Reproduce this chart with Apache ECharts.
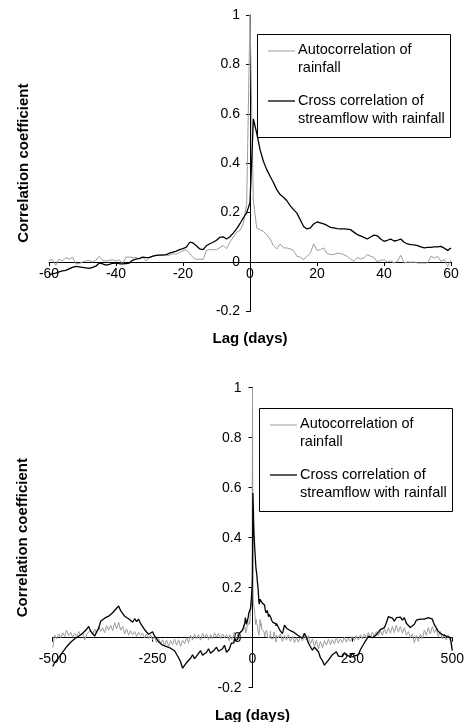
<!DOCTYPE html>
<html>
<head>
<meta charset="utf-8">
<script src="https://cdn.jsdelivr.net/npm/echarts/dist/echarts.min.js"></script>
<style>
html,body{margin:0;padding:0;background:#fff;}
#chart{width:465px;height:722px;}
</style>
</head>
<body>
<div id="chart"></div>
<script>
// ---------- DATA ----------
const seriesNames = ['Autocorrelation of rainfall', 'Cross correlation of streamflow with rainfall'];
const legendLines = [['Autocorrelation of', 'rainfall'], ['Cross correlation of', 'streamflow with rainfall']];
const axisNames = { x: 'Lag (days)', y: 'Correlation coefficient' };

// Top chart: daily lags -60 .. 60
const topLagStart = -60;
const topAuto = [
  0.007, 0.009, -0.013, 0.012, 0.004, 0.018, 0.011, 0.020, -0.007, -0.007,
  0.000, 0.004, 0.007, 0.000, 0.007, 0.023, 0.007, 0.004, 0.007, 0.009,
  0.004, 0.009, -0.007, 0.020, 0.020, 0.018, 0.018, 0.012, 0.020, 0.004,
  0.018, 0.023, 0.027, 0.028, 0.030, 0.028, 0.027, 0.034, 0.031, 0.039,
  0.045, 0.050, 0.034, 0.018, 0.010, 0.012, 0.010, 0.047, 0.050, 0.050,
  0.050, 0.058, 0.067, 0.054, 0.081, 0.100, 0.120, 0.128, 0.155, 0.236,
  1.000,
  0.250, 0.138, 0.130, 0.124, 0.110, 0.093, 0.066, 0.053, 0.073, 0.057,
  0.057, 0.053, 0.047, 0.023, 0.020, 0.010, 0.023, 0.036, 0.073, 0.047,
  0.050, 0.057, 0.034, 0.030, 0.030, 0.036, 0.034, 0.030, 0.023, 0.012,
  0.003, 0.019, 0.012, 0.016, 0.030, 0.023, 0.019, 0.000, 0.007, 0.009,
  0.000, 0.005, -0.004, 0.003, 0.027, -0.004, 0.000, -0.001, 0.000, -0.004,
  -0.004, -0.004, -0.004, 0.023, 0.016, 0.023, 0.003, 0.009, -0.018, 0.009
];
const topCross = [
  -0.051, -0.048, -0.045, -0.040, -0.036, -0.034, -0.028, -0.022, -0.018, -0.020,
  -0.022, -0.024, -0.026, -0.022, -0.017, -0.004, -0.008, -0.013, -0.010, -0.005,
  -0.004, -0.007, -0.008, -0.006, -0.004, 0.008, 0.012, 0.015, 0.020, 0.018,
  0.019, 0.024, 0.027, 0.028, 0.028, 0.030, 0.036, 0.040, 0.044, 0.050,
  0.054, 0.060, 0.080, 0.077, 0.066, 0.053, 0.050, 0.066, 0.074, 0.080,
  0.088, 0.100, 0.102, 0.093, 0.102, 0.117, 0.134, 0.155, 0.178, 0.200,
  0.240,
  0.579, 0.522, 0.455, 0.408, 0.374, 0.347, 0.322, 0.293, 0.273, 0.262,
  0.248, 0.228, 0.212, 0.198, 0.171, 0.144, 0.134, 0.138, 0.154, 0.162,
  0.158, 0.154, 0.148, 0.140, 0.138, 0.135, 0.134, 0.134, 0.133, 0.131,
  0.121, 0.111, 0.106, 0.100, 0.093, 0.101, 0.109, 0.106, 0.093, 0.084,
  0.088, 0.093, 0.085, 0.088, 0.093, 0.080, 0.073, 0.070, 0.069, 0.066,
  0.061, 0.057, 0.059, 0.059, 0.061, 0.061, 0.063, 0.056, 0.047, 0.057
];

// Bottom chart: outer lags every 5 days (-500..-65 and 65..500), centre taken from top arrays
const outerStep = 5;
const leftLagStart = -500;
const rightLagStart = 65;
const autoLeft = [
  -0.040, 0.010, -0.005, 0.015, 0.000, 0.020, 0.005, 0.030, 0.008, 0.022,
  0.002, 0.018, 0.005, 0.025, 0.008, 0.020, -0.010, 0.015, 0.010, 0.030,
  0.012, 0.035, 0.018, 0.045, 0.025, 0.040, 0.020, 0.048, 0.030, 0.050,
  0.028, 0.060, 0.035, 0.062, 0.030, 0.045, 0.015, 0.035, 0.010, 0.028,
  0.012, 0.025, 0.005, 0.022, 0.008, 0.018, 0.000, 0.015, -0.005, 0.012,
  -0.008, 0.005, -0.020, -0.002, -0.025, -0.008, -0.030, -0.010, -0.035, -0.012,
  -0.028, -0.005, -0.030, -0.008, -0.035, -0.010, -0.025, 0.000, -0.020, 0.010,
  -0.010, 0.015, -0.005, 0.012, -0.010, 0.018, 0.000, 0.015, -0.008, 0.012,
  -0.005, 0.020, 0.002, 0.018, -0.005, 0.015, 0.000, 0.012
];
const crossLeft = [
  -0.115, -0.100, -0.096, -0.080, -0.076, -0.058, -0.054, -0.036, -0.034, -0.018,
  -0.014, -0.004, -0.006, 0.006, 0.008, 0.018, 0.014, 0.034, 0.045, 0.026,
  0.024, 0.006, 0.024, 0.036, 0.066, 0.064, 0.078, 0.074, 0.086, 0.080,
  0.100, 0.100, 0.118, 0.127, 0.108, 0.110, 0.086, 0.084, 0.076, 0.074,
  0.062, 0.076, 0.064, 0.074, 0.056, 0.050, 0.032, 0.034, 0.014, 0.016,
  0.024, 0.006, 0.008, -0.016, -0.014, -0.030, -0.028, -0.036, -0.032, -0.042,
  -0.038, -0.052, -0.056, -0.080, -0.096, -0.122, -0.126, -0.100, -0.106, -0.082,
  -0.068, -0.084, -0.074, -0.066, -0.052, -0.070, -0.068, -0.058, -0.044, -0.062,
  -0.056, -0.048, -0.038, -0.054, -0.048, -0.044, -0.030, -0.058
];
const autoRight = [
  0.000, 0.015, -0.015, 0.010, -0.010, 0.012, -0.015, 0.005, -0.020, 0.000,
  -0.018, 0.005, -0.012, 0.010, -0.010, 0.008, -0.025, -0.005, -0.035, -0.010,
  -0.045, -0.015, -0.040, -0.012, -0.030, -0.005, -0.028, -0.008, -0.025, 0.000,
  -0.022, -0.005, -0.020, 0.002, -0.018, -0.002, -0.015, 0.005, -0.012, 0.008,
  -0.010, 0.012, -0.005, 0.015, -0.002, 0.020, 0.002, 0.022, 0.005, 0.025,
  0.008, 0.028, 0.010, 0.035, 0.015, 0.040, 0.018, 0.045, 0.020, 0.050,
  0.022, 0.045, 0.018, 0.040, 0.010, 0.025, 0.000, 0.015, -0.020, 0.010,
  -0.015, 0.015, -0.005, 0.030, 0.010, 0.040, 0.015, 0.045, 0.020, 0.035,
  0.005, 0.025, -0.005, 0.015, -0.010, 0.010, -0.012, -0.030
];
const crossRight = [
  0.052, 0.026, 0.016, 0.050, 0.038, 0.040, 0.028, 0.034, 0.020, 0.018,
  0.008, 0.008, -0.002, 0.018, 0.002, -0.022, -0.028, -0.050, -0.038, -0.042,
  -0.056, -0.080, -0.092, -0.110, -0.113, -0.090, -0.088, -0.068, -0.070, -0.056,
  -0.074, -0.072, -0.076, -0.060, -0.070, -0.066, -0.076, -0.062, -0.074, -0.066,
  -0.068, -0.048, -0.044, -0.020, -0.008, 0.006, -0.002, 0.000, 0.000, 0.012,
  0.016, 0.032, 0.030, 0.040, 0.060, 0.084, 0.086, 0.078, 0.066, 0.080,
  0.080, 0.082, 0.070, 0.080, 0.058, 0.060, 0.041, 0.047, 0.054, 0.070,
  0.072, 0.074, 0.068, 0.074, 0.070, 0.080, 0.075, 0.074, 0.052, 0.044,
  0.025, 0.022, 0.012, 0.016, 0.006, 0.012, 0.000, -0.052
];

// Axis settings (tick labels)
const topX = { min: -60, max: 60, interval: 20 };
const bottomX = { min: -500, max: 500, interval: 250 };
const yRange = { min: -0.2, max: 1, interval: 0.2 };

// ---------- BUILD ----------
function toPairs(start, step, values) {
  return values.map(function (v, i) { return [start + i * step, v]; });
}
const FONT = '"Liberation Sans", Arial, Helvetica, sans-serif';
const GRAY = '#9c9c9c';
const BLACK = '#000000';

const topAutoData = toPairs(topLagStart, 1, topAuto);
const topCrossData = toPairs(topLagStart, 1, topCross);
const bottomAutoData = toPairs(leftLagStart, outerStep, autoLeft)
  .concat(topAutoData, toPairs(rightLagStart, outerStep, autoRight));
const bottomCrossData = toPairs(leftLagStart, outerStep, crossLeft)
  .concat(topCrossData, toPairs(rightLagStart, outerStep, crossRight));

// Axes cross at the origin: the x axis is shifted up to y = 0 and the y axis right to x = 0
function xAxisDef(gridIndex, r, offset, nameGap, labelMargin) {
  return {
    type: 'value', gridIndex: gridIndex, min: r.min, max: r.max, interval: r.interval,
    position: 'bottom', offset: offset,
    name: axisNames.x, nameLocation: 'middle', nameGap: nameGap,
    nameTextStyle: { fontFamily: FONT, fontSize: 15, fontWeight: 'bold', color: '#000' },
    axisLine: { show: true, onZero: false, lineStyle: { color: '#000', width: 1 } },
    axisTick: { show: true, inside: false, length: 4, lineStyle: { color: '#000', width: 1 } },
    axisLabel: { margin: labelMargin, fontFamily: FONT, fontSize: 14, color: '#000' },
    splitLine: { show: false }
  };
}
function yAxisDef(gridIndex, offset, nameGap, labelMargin) {
  return {
    type: 'value', gridIndex: gridIndex, min: yRange.min, max: yRange.max, interval: yRange.interval,
    position: 'left', offset: offset,
    name: axisNames.y, nameLocation: 'middle', nameGap: nameGap, nameRotate: 90,
    nameTextStyle: { fontFamily: FONT, fontSize: 15, fontWeight: 'bold', color: '#000' },
    axisLine: { show: true, onZero: false, lineStyle: { color: '#000', width: 1 } },
    axisTick: { show: true, inside: false, length: 4, lineStyle: { color: '#000', width: 1 } },
    axisLabel: { margin: labelMargin, fontFamily: FONT, fontSize: 14, color: '#000',
      formatter: function (v) { return String(Math.round(v * 10) / 10); } },
    splitLine: { show: false }
  };
}
function lineSeries(name, xi, data, color, width, z) {
  return {
    name: name, type: 'line', xAxisIndex: xi, yAxisIndex: xi, data: data,
    symbol: 'none', showSymbol: false, smooth: false, z: z,
    lineStyle: { color: color, width: width }, itemStyle: { color: color },
    emphasis: { disabled: true }
  };
}
function legendBox(x, y) {
  const font = '14.5px ' + FONT;
  return {
    type: 'group', x: x, y: y, silent: true, z: 100,
    children: [
      { type: 'rect', shape: { x: 0.5, y: 0.5, width: 193, height: 103 },
        style: { fill: '#fff', stroke: '#000', lineWidth: 1 } },
      { type: 'line', shape: { x1: 11, y1: 17, x2: 38, y2: 17 },
        style: { stroke: GRAY, lineWidth: 1 } },
      { type: 'text', x: 41, y: 7,
        style: { text: legendLines[0].join('\n'), font: font, lineHeight: 18, fill: '#000' } },
      { type: 'line', shape: { x1: 11, y1: 67, x2: 38, y2: 67 },
        style: { stroke: BLACK, lineWidth: 1.3 } },
      { type: 'text', x: 41, y: 57.5,
        style: { text: legendLines[1].join('\n'), font: font, lineHeight: 18, fill: '#000' } }
    ]
  };
}

const option = {
  animation: false,
  backgroundColor: '#ffffff',
  textStyle: { fontFamily: FONT },
  grid: [
    { left: 49, top: 15, width: 402, height: 296.4, outerBoundsMode: 'none', containLabel: false },
    { left: 52.7, top: 387.7, width: 399.6, height: 300, outerBoundsMode: 'none', containLabel: false }
  ],
  xAxis: [ xAxisDef(0, topX, -49.4, 69, 5), xAxisDef(1, bottomX, -50, 71, 14) ],
  yAxis: [ yAxisDef(0, -201, 219, 10), yAxisDef(1, -199.8, 222, 11) ],
  series: [
    lineSeries(seriesNames[0], 0, topAutoData, GRAY, 1, 2),
    lineSeries(seriesNames[1], 0, topCrossData, BLACK, 1.3, 3),
    lineSeries(seriesNames[0], 1, bottomAutoData, GRAY, 1, 2),
    lineSeries(seriesNames[1], 1, bottomCrossData, BLACK, 1.3, 3)
  ],
  graphic: { elements: [ legendBox(257, 34), legendBox(259, 408) ] }
};

const chart = echarts.init(document.getElementById('chart'), null, { renderer: 'canvas' });
chart.setOption(option);
</script>
</body>
</html>
